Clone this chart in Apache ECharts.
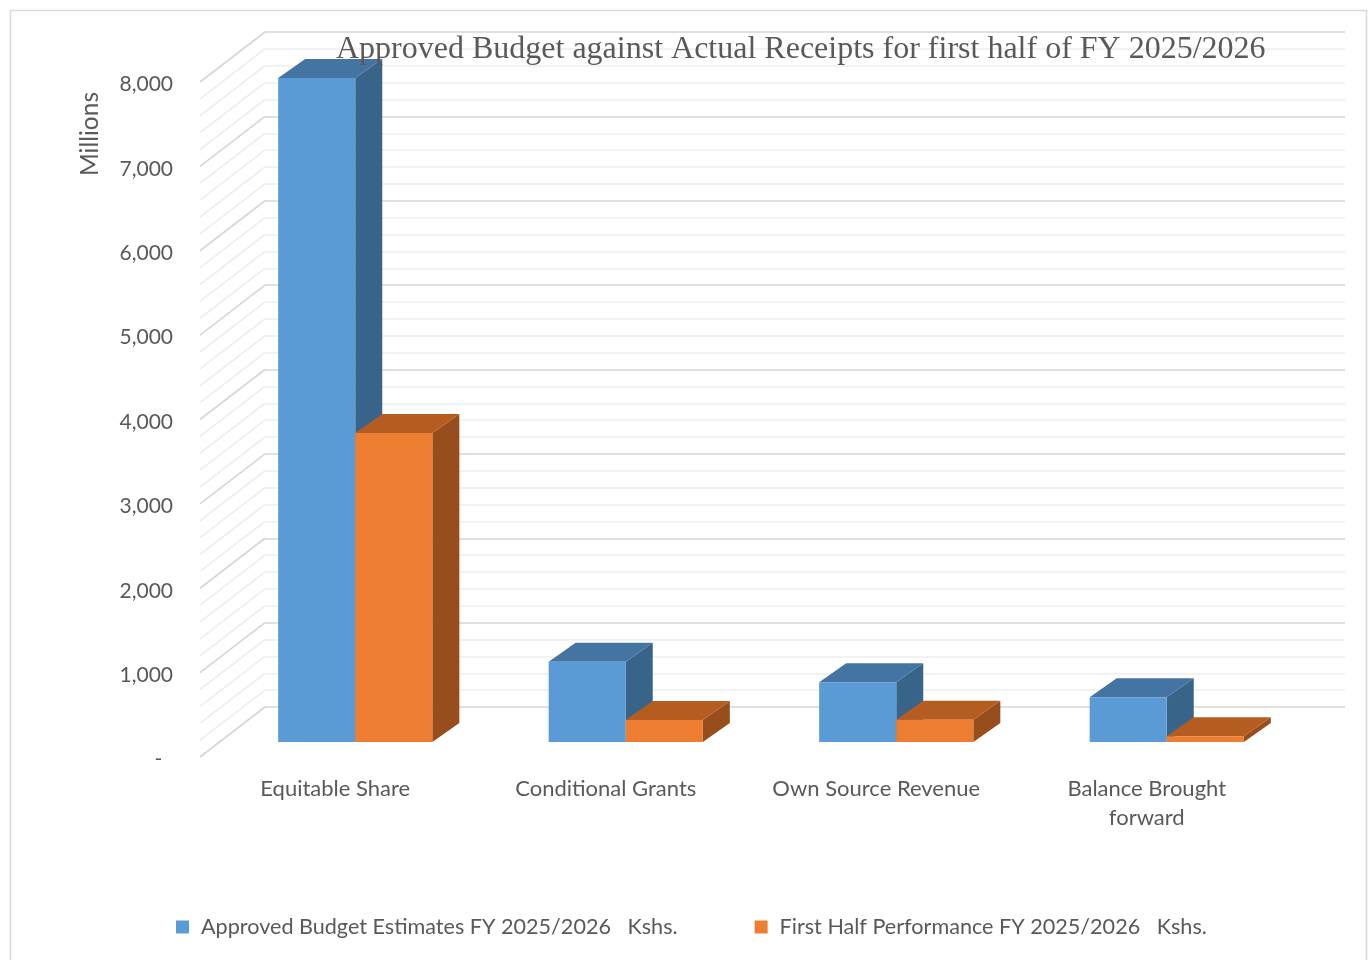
<!DOCTYPE html>
<html><head><meta charset="utf-8">
<script src="https://cdn.jsdelivr.net/npm/echarts@6/dist/echarts.min.js"></script>
<style>html,body{margin:0;padding:0;background:#fff}#c{width:1371px;height:960px}</style>
</head><body><div id="c"></div>
<script>
const categories = ['Equitable Share', 'Conditional Grants', 'Own Source Revenue', 'Balance Brought\nforward'];
const seriesNames = ['Approved Budget Estimates FY 2025/2026   Kshs.', 'First Half Performance FY 2025/2026   Kshs.'];
const approvedBudget = [7870, 950, 707, 530];
const firstHalfPerformance = [3663, 262, 265, 67];
const wallTicks = [0, 200, 400, 600, 800, 1000, 1200, 1400, 1600, 1800, 2000, 2200, 2400, 2600, 2800, 3000,
  3200, 3400, 3600, 3800, 4000, 4200, 4400, 4600, 4800, 5000, 5200, 5400, 5600, 5800, 6000,
  6200, 6400, 6600, 6800, 7000, 7200, 7400, 7600, 7800, 8000];
const yMax = 8000;
const titleText = 'Approved Budget against Actual Receipts for first half of FY 2025/2026';

const DX = 65, DY = -50;          // wall depth
const BX = 20, BY = -15;          // bar front offset from front plane
const DBX = 27, DBY = -19;        // bar depth
const TXT = '#595959';
const FONT = 'Lato';

const palettes = [
  { front: '#5B9BD5', top: '#4475A2', side: '#386489' },
  { front: '#ED7D31', top: '#B55D21', side: '#984D1C' }
];

function barRenderer(sIdx) {
  return function (params, api) {
    const i = api.value(0), v = api.value(1);
    const base = api.coord([i, 0]);
    const top = api.coord([i, v]);
    const band = api.size([1, 0])[0];
    const w = band * 0.285;
    const x0 = base[0] + BX + (sIdx === 0 ? -w : 0);
    const yb = base[1] + BY, yt = top[1] + BY;
    const p = palettes[sIdx];
    return {
      type: 'group',
      children: [
        { type: 'polygon', shape: { points: [[x0 + w, yt], [x0 + w + DBX, yt + DBY], [x0 + w + DBX, yb + DBY], [x0 + w, yb]] }, style: { fill: p.side } },
        { type: 'polygon', shape: { points: [[x0, yt], [x0 + w, yt], [x0 + w + DBX, yt + DBY], [x0 + DBX, yt + DBY]] }, style: { fill: p.top } },
        { type: 'rect', shape: { x: x0, y: yt, width: w, height: yb - yt }, style: { fill: p.front } }
      ]
    };
  };
}

const chart = echarts.init(document.getElementById('c'), null, { renderer: 'canvas' });
chart.setOption({
  animation: false,
  backgroundColor: '#fff',
  title: {
    text: titleText, left: 336, top: 34, padding: 0,
    textStyle: { fontFamily: 'Liberation Serif', fontSize: 32, fontWeight: 'normal', color: TXT }
  },
  legend: {
    left: 176, top: 916, padding: 0, itemWidth: 13, itemHeight: 13, itemGap: 77, icon: 'rect',
    textStyle: { fontFamily: FONT, fontSize: 21.6, color: TXT, padding: [0, 0, 0, 7] },
    data: seriesNames
  },
  graphic: [
    { type: 'rect', shape: { x: 10.5, y: 10.5, width: 1356, height: 980 }, style: { fill: null, stroke: '#d9d9d9', lineWidth: 1.5 }, z: -10 },
    { type: 'text', x: 90, y: 134, rotation: Math.PI / 2, style: { text: 'Millions', font: '24.5px ' + FONT, fill: TXT, textAlign: 'center', textVerticalAlign: 'middle' } }
  ],
  grid: [
    { left: 200, top: 82, width: 1082, height: 675 },
    { left: 265, top: 32, width: 1080, height: 675 }
  ],
  xAxis: [
    { type: 'category', gridIndex: 0, data: categories, axisLine: { show: false }, axisTick: { show: false },
      axisLabel: { margin: 17, fontFamily: FONT, fontSize: 22, color: TXT, lineHeight: 29, interval: 0 } },
    { type: 'category', gridIndex: 1, data: categories, show: false }
  ],
  yAxis: [
    { type: 'value', gridIndex: 0, min: 0, max: yMax, interval: 1000,
      axisLine: { show: false }, axisTick: { show: false }, splitLine: { show: false },
      axisLabel: { margin: 27, fontFamily: FONT, fontSize: 21, color: TXT, verticalAlign: 'top', lineHeight: 5,
        formatter: function (v) { return v === 0 ? '-  ' : v.toLocaleString('en-US'); } } },
    { type: 'value', gridIndex: 1, min: 0, max: yMax, interval: 200,
      axisLine: { show: false }, axisTick: { show: false }, axisLabel: { show: false },
      splitLine: { show: true, lineStyle: { width: 1.6, color: ['#d6d6d6', '#eeeeee', '#eeeeee', '#eeeeee', '#eeeeee'] } } }
  ],
  series: [
    {
      type: 'custom', name: 'sideWall', xAxisIndex: 0, yAxisIndex: 0, silent: true, z: 1,
      data: wallTicks.map(function (t) { return [0, t]; }),
      renderItem: function (params, api) {
        const p = api.coord([0, api.value(1)]);
        const band = api.size([1, 0])[0];
        const x = p[0] - band / 2;
        const major = api.value(1) % 1000 === 0;
        return { type: 'line', shape: { x1: x, y1: p[1], x2: x + DX, y2: p[1] + DY },
          style: { stroke: major ? '#d6d6d6' : '#eeeeee', lineWidth: 1.6 } };
      }
    },
    {
      type: 'custom', name: seriesNames[0], xAxisIndex: 0, yAxisIndex: 0, z: 2,
      itemStyle: { color: palettes[0].front },
      data: approvedBudget.map(function (v, i) { return [i, v]; }),
      renderItem: barRenderer(0)
    },
    {
      type: 'custom', name: seriesNames[1], xAxisIndex: 0, yAxisIndex: 0, z: 2,
      itemStyle: { color: palettes[1].front },
      data: firstHalfPerformance.map(function (v, i) { return [i, v]; }),
      renderItem: barRenderer(1)
    }
  ]
});
</script>
</body></html>
